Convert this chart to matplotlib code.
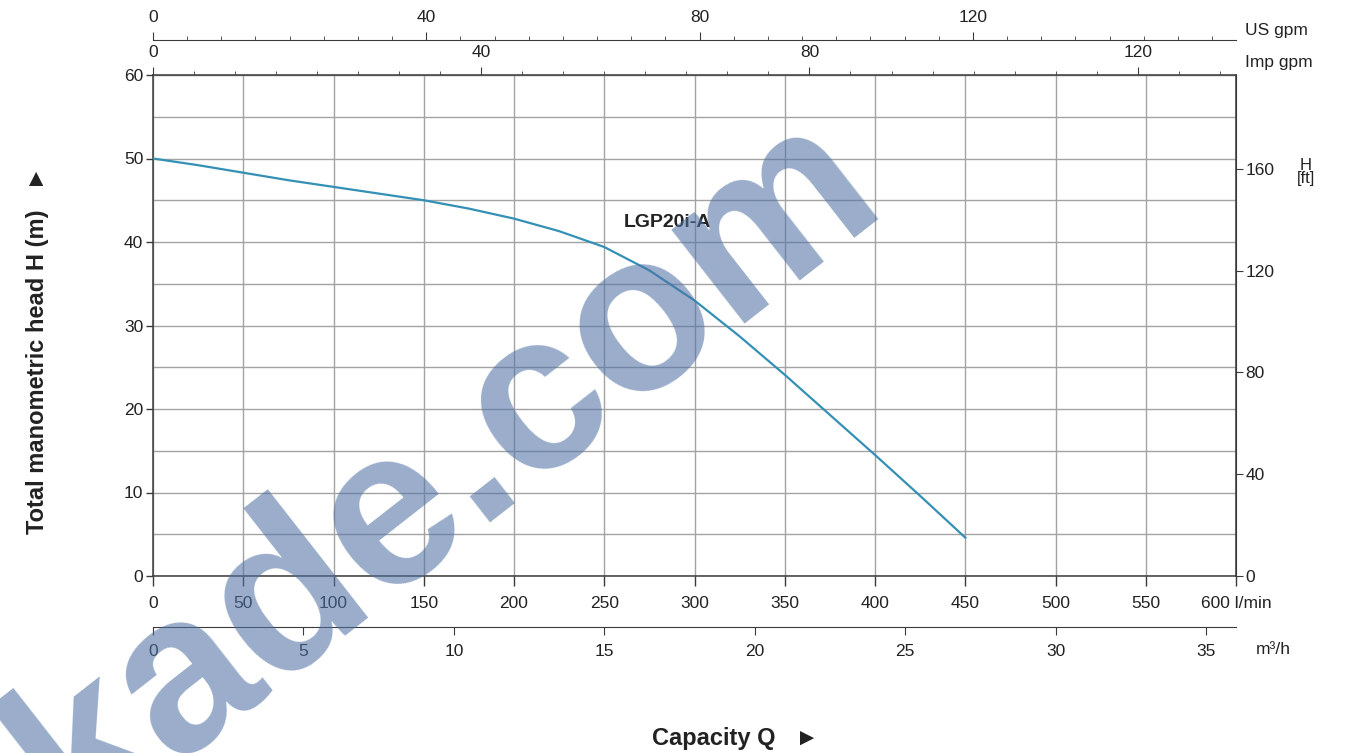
import matplotlib
matplotlib.use("Agg")
import matplotlib.pyplot as plt
from matplotlib.ticker import MultipleLocator, FixedLocator

plt.rcParams['font.family'] = ['Liberation Sans', 'DejaVu Sans']

# pump curve LGP20i-A
FLOW_LPM = [0, 25, 50, 75, 100, 125, 150, 175, 200, 225, 250, 275, 300, 325, 350, 375, 400, 425, 450]
HEAD_M = [50, 49.2, 48.3, 47.4, 46.6, 45.8, 45.0, 44.0, 42.8, 41.3, 39.4, 36.6, 33.0, 28.7,
          24.1, 19.3, 14.5, 9.6, 4.6]

X_TICKS = [0, 50, 100, 150, 200, 250, 300, 350, 400, 450, 500, 550, 600]
X_LABELS = ["0", "50", "100", "150", "200", "250", "300", "350", "400", "450", "500", "550", "600 l/min"]
Y_TICKS = [0, 10, 20, 30, 40, 50, 60]
FT_TICKS = [0, 40, 80, 120, 160]
GPM_TICKS = [0, 40, 80, 120]
M3H_TICKS = [0, 5, 10, 15, 20, 25, 30, 35]

CURVE_NAME = "LGP20i-A"
LPM_PER_USGPM = 3.78541
LPM_PER_IMPGPM = 4.54609
M_TO_FT = 3.28084

TEXT_COL = "#222222"
SPINE_COL = "#3a3a3a"
GRID_COL = "#a3a3a3"
CURVE_COL = "#3490b5"
TICK_FS = 12.5

fig = plt.figure(figsize=(13.48, 7.53), dpi=100)
ax = fig.add_axes([153 / 1348, 1 - 576 / 753, (1236 - 153) / 1348, (576 - 75) / 753])

ax.plot(FLOW_LPM, HEAD_M, color=CURVE_COL, lw=1.6, zorder=3, solid_joinstyle="round")
ax.text(285, 42.3, CURVE_NAME, ha="center", va="center", fontsize=14,
        fontweight="bold", color=TEXT_COL)

ax.set_xlim(0, 600)
ax.set_ylim(0, 60)
ax.set_xticks(X_TICKS)
ax.set_xticklabels(X_LABELS)
ax.set_yticks(Y_TICKS)
ax.yaxis.set_minor_locator(MultipleLocator(5))
ax.grid(which="major", axis="x", color=GRID_COL, lw=1.0)
ax.grid(which="both", axis="y", color=GRID_COL, lw=1.0)
ax.tick_params(axis="y", which="minor", length=0)
ax.tick_params(axis="both", which="major", labelsize=TICK_FS, colors=SPINE_COL,
               labelcolor=TEXT_COL, width=1.0)
ax.tick_params(axis="x", length=7, pad=7.5)
ax.tick_params(axis="y", length=5, pad=2)
ax.set_axisbelow(True)
for s in ax.spines.values():
    s.set_color(SPINE_COL)
    s.set_linewidth(1.1)

# right axis in feet
ft = ax.secondary_yaxis("right", functions=(lambda m: m * M_TO_FT, lambda f: f / M_TO_FT))
ft.set_yticks(FT_TICKS)
ft.tick_params(labelsize=TICK_FS, length=5, pad=2, colors=SPINE_COL, labelcolor=TEXT_COL)
ft.spines["right"].set_color(SPINE_COL)

# Imp gpm on the top spine
imp = ax.secondary_xaxis("top", functions=(lambda q: q / LPM_PER_IMPGPM, lambda g: g * LPM_PER_IMPGPM))
imp.xaxis.set_major_locator(FixedLocator(GPM_TICKS))
imp.xaxis.set_minor_locator(MultipleLocator(5))
imp.tick_params(which="major", length=6, labelsize=TICK_FS, pad=4.5, colors=SPINE_COL, labelcolor=TEXT_COL)
imp.tick_params(which="minor", length=3, colors=SPINE_COL)
imp.spines["top"].set_color(SPINE_COL)

# US gpm line above it
us = ax.secondary_xaxis(1 + 35 / 501, functions=(lambda q: q / LPM_PER_USGPM, lambda g: g * LPM_PER_USGPM))
us.xaxis.set_major_locator(FixedLocator(GPM_TICKS))
us.xaxis.set_minor_locator(MultipleLocator(5))
us.tick_params(which="major", length=6, labelsize=TICK_FS, pad=4.5, colors=SPINE_COL, labelcolor=TEXT_COL)
us.tick_params(which="minor", length=3, colors=SPINE_COL)
us.spines["top"].set_color(SPINE_COL)

# m3/h line below
m3h = ax.secondary_xaxis(-51 / 501, functions=(lambda q: q * 0.06, lambda v: v / 0.06))
m3h.xaxis.set_major_locator(FixedLocator(M3H_TICKS))
m3h.tick_params(which="major", length=6, labelsize=TICK_FS, pad=6, colors=SPINE_COL, labelcolor=TEXT_COL)
m3h.spines["bottom"].set_color(SPINE_COL)

# unit labels
fig.text(1245 / 1348, 1 - 31 / 753, "US gpm", ha="left", va="center", fontsize=TICK_FS, color=TEXT_COL)
fig.text(1245 / 1348, 1 - 62 / 753, "Imp gpm", ha="left", va="center", fontsize=TICK_FS, color=TEXT_COL)
fig.text(1256 / 1348, 1 - 650 / 753, "m³/h", ha="left", va="center", fontsize=TICK_FS, color=TEXT_COL)
fig.text(1306 / 1348, 1 - 172 / 753, "H\n[ft]", ha="center", va="center", fontsize=12,
         linespacing=0.85, color=TEXT_COL)

fig.text(38 / 1348, 1 - 350 / 753, "Total manometric head H (m)   ►", rotation=90,
         ha="center", va="center", fontsize=17, fontweight="bold", color=TEXT_COL)
fig.text(735 / 1348, 1 - 738 / 753, "Capacity Q   ►", ha="center", va="center",
         fontsize=17, fontweight="bold", color=TEXT_COL)

# watermark
fig.text(480 / 1348, 1 - 518 / 753, "kade.com", rotation=38, rotation_mode="anchor",
         ha="center", va="baseline", fontsize=161, fontweight="bold",
         color=(80 / 255, 113 / 255, 163 / 255), alpha=0.58, zorder=10)

fig.savefig("out.png", dpi=100)
